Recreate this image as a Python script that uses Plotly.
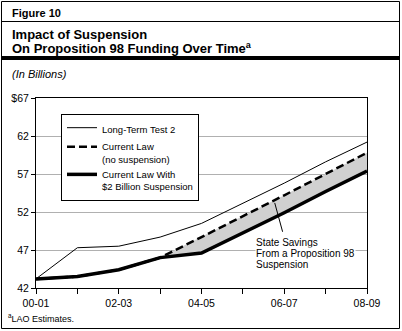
import plotly.graph_objects as go

# Fiscal years on the horizontal axis; every other year is labelled
years = ["00-01", "01-02", "02-03", "03-04", "04-05", "05-06", "06-07", "07-08", "08-09"]

# Proposition 98 funding, in billions of dollars
long_term_test2 = [43.2, 47.3, 47.5, 48.7, 50.5, 53.1, 55.8, 58.6, 61.2]
current_law = [43.2, 43.5, 44.4, 46.0, 48.7, 51.4, 54.2, 57.0, 59.8]
with_suspension = [43.2, 43.5, 44.4, 46.0, 46.6, 49.2, 51.9, 54.7, 57.4]

y_ticks = [42, 47, 52, 57, 62, 67]
y_tick_text = ["42", "47", "52", "57", "62", "$67"]

FONT = "Liberation Sans, Arial, Helvetica, sans-serif"

W, H = 402, 331
L, R, T, B = 36, 35, 98, 43
PW, PH = W - L - R, H - T - B


def px(x):
    """Pixel x -> paper x."""
    return (x - L) / PW


def py(y):
    """Pixel y (from top) -> paper y."""
    return (H - B - y) / PH


# savings band starts where the two current-law series split
start = next(i for i, (a, b) in enumerate(zip(current_law, with_suspension)) if a != b) - 1

fig = go.Figure()

# shaded state savings band
fig.add_trace(go.Scatter(
    x=years[start:], y=with_suspension[start:], mode="lines",
    line=dict(width=0, color="rgba(0,0,0,0)"), showlegend=False, hoverinfo="skip"))
fig.add_trace(go.Scatter(
    x=years[start:], y=current_law[start:], mode="lines", fill="tonexty",
    fillcolor="#d0d0d0", line=dict(width=0, color="rgba(0,0,0,0)"),
    showlegend=False, hoverinfo="skip"))

fig.add_trace(go.Scatter(
    x=years, y=long_term_test2, mode="lines", name="Long-Term Test 2",
    line=dict(color="black", width=1)))
fig.add_trace(go.Scatter(
    x=years, y=current_law, mode="lines", name="Current Law<br>(no suspension)",
    line=dict(color="black", width=2.5, dash="8px,4px")))
fig.add_trace(go.Scatter(
    x=years, y=with_suspension, mode="lines",
    name="Current Law With<br>$2 Billion Suspension",
    line=dict(color="black", width=3.5)))

fig.update_xaxes(
    type="category", categoryorder="array", categoryarray=years,
    range=[0, len(years) - 1],
    tickmode="linear", tick0=0, dtick=1, ticklabelstep=2,
    ticks="outside", ticklen=5, tickcolor="black", tickwidth=1,
    showline=True, linecolor="black", linewidth=1, mirror=True,
    showgrid=False, zeroline=False,
    tickfont=dict(family=FONT, size=10.5, color="black"))
fig.update_yaxes(
    range=[42, 67], tickmode="array", tickvals=y_ticks, ticktext=y_tick_text,
    ticks="outside", ticklen=4, tickcolor="black", tickwidth=1,
    showline=True, linecolor="black", linewidth=1, mirror=True,
    showgrid=True, gridcolor="#b0b0b0", gridwidth=1, zeroline=False,
    tickfont=dict(family=FONT, size=10.5, color="black"))

shapes = [
    # outer frame
    dict(type="rect", xref="paper", yref="paper",
         x0=px(1.5), x1=px(399.5), y0=py(328.5), y1=py(1.5),
         line=dict(color="black", width=1)),
    # rule under figure number
    dict(type="line", xref="paper", yref="paper",
         x0=px(1.5), x1=px(399.5), y0=py(21.5), y1=py(21.5),
         line=dict(color="black", width=1)),
    # heavy rule under title
    dict(type="line", xref="paper", yref="paper",
         x0=px(1.5), x1=px(399.5), y0=py(58), y1=py(58),
         line=dict(color="black", width=4)),
    # leader from the savings label to the band
    dict(type="line", xref="x", yref="y",
         x0=5.77, y0=53.2, x1=5.96, y1=49.4,
         line=dict(color="black", width=1)),
]

annotations = [
    dict(text="<b>Figure 10</b>", x=px(11), y=py(13), font=dict(size=11)),
    dict(text="<b>Impact of Suspension</b>", x=px(11), y=py(34), font=dict(size=13)),
    dict(text="<b>On Proposition 98 Funding Over Time<sup>a</sup></b>",
         x=px(11), y=py(48), font=dict(size=13)),
    dict(text="<i>(In Billions)</i>", x=px(11), y=py(74), font=dict(size=11)),
    dict(text="<sup>a</sup>LAO Estimates.", x=px(7), y=py(318), font=dict(size=9)),
    dict(text="State Savings", x=px(255), y=py(242), font=dict(size=10),
         bgcolor="white"),
    dict(text="From a Proposition 98", x=px(255), y=py(253), font=dict(size=10),
         bgcolor="white"),
    dict(text="Suspension", x=px(255), y=py(264), font=dict(size=10),
         bgcolor="white"),
]
for a in annotations:
    a.update(xref="paper", yref="paper", xanchor="left", yanchor="middle",
             showarrow=False, align="left", borderpad=0)
    a["font"].update(family=FONT, color="black")

fig.update_layout(
    width=W, height=H, autosize=False,
    margin=dict(l=L, r=R, t=T, b=B, pad=0),
    paper_bgcolor="white", plot_bgcolor="white",
    font=dict(family=FONT, color="black"),
    shapes=shapes, annotations=annotations,
    showlegend=True,
    legend=dict(
        x=px(61), y=py(114), xanchor="left", yanchor="top",
        bgcolor="white", bordercolor="black", borderwidth=1,
        font=dict(family=FONT, size=9.5, color="black"),
        valign="top", traceorder="normal", tracegroupgap=0, itemwidth=30,
    ),
)

fig.write_html("out.html")
